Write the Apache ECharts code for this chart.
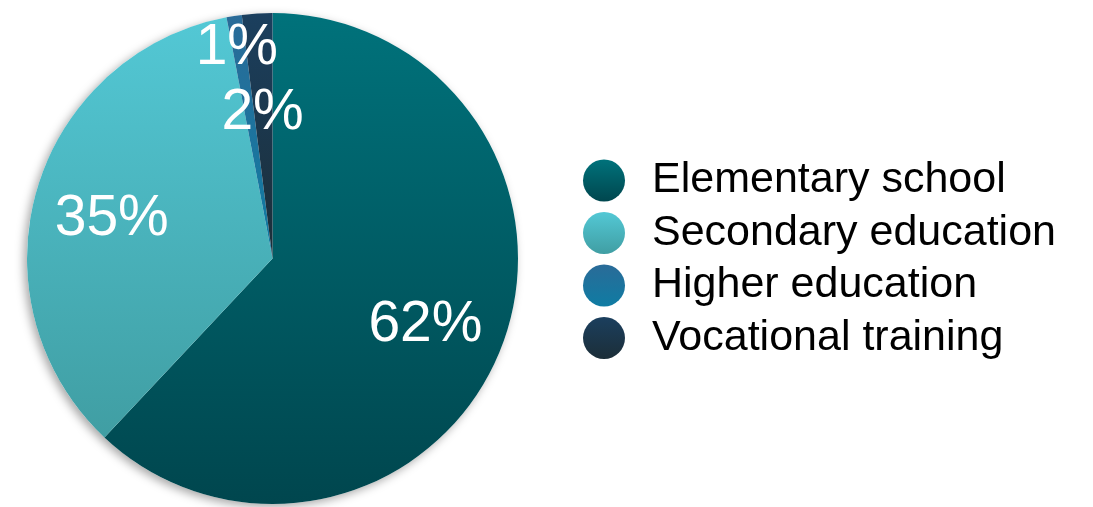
<!DOCTYPE html>
<html><head><meta charset="utf-8">
<script src="https://cdn.jsdelivr.net/npm/echarts@6/dist/echarts.min.js"></script>
<style>html,body{margin:0;padding:0;background:#fff}#c{width:1093px;height:507px}</style>
</head><body><div id="c"></div>
<script>
const categories = ['Elementary school', 'Secondary education', 'Higher education', 'Vocational training'];
const values = [62, 35, 1, 2];
const topColors = ['#00727b', '#53c8d5', '#2a6b98', '#1b3f5e'];
const bottomColors = ['#00464e', '#409ea3', '#0f7ca3', '#1c2e38'];
const labelOffsets = [[36, 20], [-40, -4], [-16, -86], [-2, -20]];

const grad = (a, b) => new echarts.graphic.LinearGradient(0, 0, 0, 1, [{offset: 0, color: a}, {offset: 1, color: b}]);
const chart = echarts.init(document.getElementById('c'), null, {renderer: 'canvas'});
const center = [272.5, 258.5];
const radius = 245.5;
chart.setOption({
  animation: false,
  legend: {
    orient: 'vertical', left: 578, top: 154,
    data: categories,
    icon: 'circle', itemWidth: 42, itemHeight: 42, itemGap: 9.5,
    textStyle: {fontFamily: 'Liberation Sans', fontSize: 43, color: '#000', padding: [0, 0, 0, 22]},
    selectedMode: false
  },
  series: [
    {
      type: 'pie', silent: true, center: center, radius: radius, z: 1,
      label: {show: false}, labelLine: {show: false},
      itemStyle: {color: '#fff', shadowBlur: 10, shadowColor: 'rgba(0,0,0,0.35)', shadowOffsetX: -3, shadowOffsetY: 3},
      data: [{value: 1, name: '__bg'}]
    },
    {
      type: 'pie', center: center, radius: radius, startAngle: 90, clockwise: true, z: 2,
      labelLine: {show: false},
      label: {
        show: true, position: 'inside', formatter: '{c}%',
        fontFamily: 'Liberation Sans', fontSize: 57, color: '#fff'
      },
      itemStyle: {borderWidth: 0},
      data: categories.map((n, i) => ({
        name: n, value: values[i],
        itemStyle: {color: grad(topColors[i], bottomColors[i])},
        label: {offset: labelOffsets[i]}
      }))
    }
  ]
});
</script></body></html>
